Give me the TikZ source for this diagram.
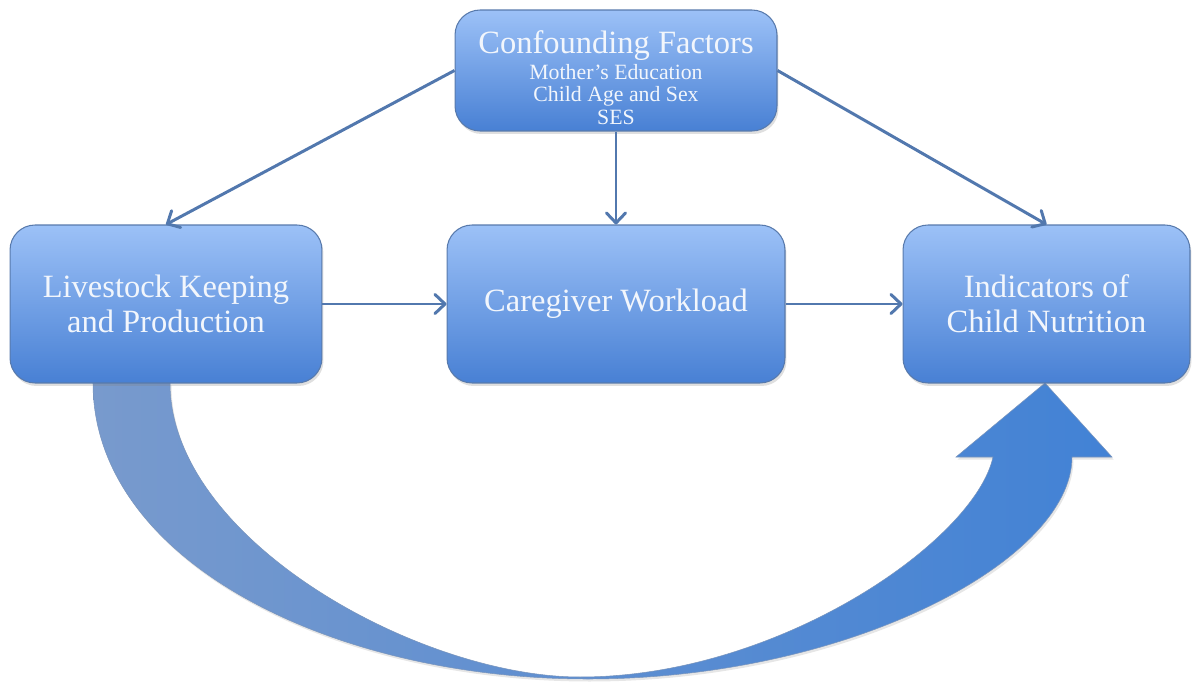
\documentclass[tikz,border=0pt]{standalone}
\usepackage{fontspec}
\setmainfont{Liberation Serif}
\usetikzlibrary{arrows.meta,shadows}

\definecolor{boxtop}{RGB}{156,193,247}
\definecolor{boxbot}{RGB}{72,128,212}
\definecolor{boxline}{RGB}{88,122,172}
\definecolor{linkcol}{RGB}{82,120,174}
\definecolor{bandL}{RGB}{120,154,205}
\definecolor{bandR}{RGB}{66,130,213}
\definecolor{boxtext}{RGB}{242,246,252}

\newcommand{\bigfont}{\fontsize{18.5}{20}\selectfont}
\newcommand{\subfont}{\fontsize{12.4}{12.8}\selectfont}

\tikzset{
  factor/.style={draw=boxline,line width=0.6pt,rounded corners=0.5cm,
    top color=boxtop,bottom color=boxbot,text=boxtext,align=center,
    minimum height=3.16cm,font=\bigfont,
    drop shadow={opacity=0.25,shadow xshift=0.03cm,shadow yshift=-0.06cm}},
  link/.style={draw=linkcol,line width=1.7pt,
    -{Straight Barb[length=0.2cm,width=0.38cm,round]}}
}

\begin{document}
\begin{tikzpicture}[x=0.02cm,y=-0.02cm]
\useasboundingbox (0,0) rectangle (1194,682);
% wide curved arrow under the boxes
\shade[left color=bandL,right color=bandR,draw=boxline!80,line width=0.3pt,
  drop shadow={opacity=0.2,shadow xshift=0.03cm,shadow yshift=-0.05cm}]
  (93,383) .. controls (93,560) and (330,679) .. (588,679)
  .. controls (850,679) and (1072,560) .. (1072,457)
  -- (1112,457) -- (1045,383) -- (956,457) -- (993,457)
  .. controls (975,540) and (780,677) .. (580,677)
  .. controls (420,677) and (170,540) .. (170,383) -- cycle;
% boxes
\node[factor,font=\subfont,minimum width=6.44cm,minimum height=2.42cm] (conf) at (616,70.5)
  {{\bigfont\rule{0pt}{21pt}Confounding Factors}\\[2pt]
   Mother's Education\\ Child Age and Sex\\ SES};
\node[factor,minimum width=6.24cm] (live) at (166,304) {Livestock Keeping\\and Production};
\node[factor,minimum width=6.76cm] (care) at (616,304) {Caregiver Workload};
\node[factor,minimum width=5.74cm] (ind) at (1046.5,304) {Indicators of\\Child Nutrition};
% connectors
\draw[link] (conf.west) -- (live.north);
\draw[link] (conf.south) -- (care.north);
\draw[link] (conf.east) -- (ind.north);
\draw[link] (live.east) -- (care.west);
\draw[link] (care.east) -- (ind.west);
\end{tikzpicture}
\end{document}
